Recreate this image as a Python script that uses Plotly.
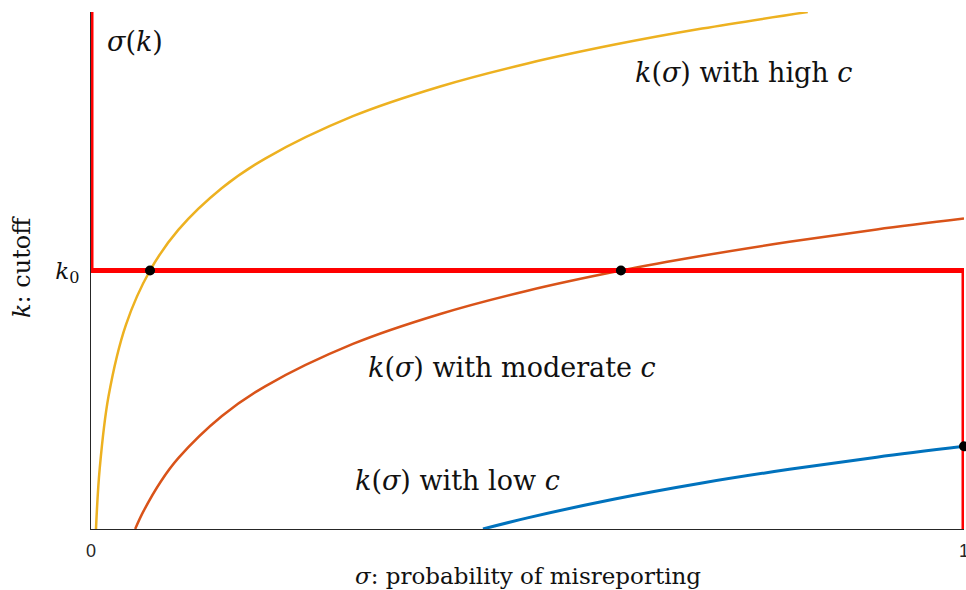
import plotly.graph_objects as go

# sigma (x) and cutoff k (y); k0 = 1
sigma_high = [0.0057, 0.01, 0.02, 0.04, 0.0676, 0.1, 0.15, 0.2, 0.3, 0.4, 0.5, 0.6, 0.7, 0.821]
k_high = [0.0, 0.235, 0.512, 0.790, 1.0, 1.157, 1.319, 1.434, 1.597, 1.712, 1.801, 1.874, 1.936, 2.0]

sigma_mod = [0.0506, 0.06, 0.08, 0.1, 0.15, 0.2, 0.3, 0.4, 0.5, 0.607, 0.7, 0.8, 0.9, 1.0]
k_mod = [0.0, 0.068, 0.184, 0.274, 0.437, 0.553, 0.716, 0.832, 0.922, 1.0, 1.057, 1.111, 1.159, 1.201]

sigma_low = [0.449, 0.5, 0.6, 0.7, 0.8, 0.9, 1.0]
k_low = [0.0, 0.043, 0.116, 0.178, 0.231, 0.278, 0.320]

sigma_of_k_x = [0, 0, 1, 1]
sigma_of_k_y = [2.0, 1.0, 1.0, 0.0]

eq_x = [0.0676, 0.607, 1.0]
eq_y = [1.0, 1.0, 0.320]

x_ticks = [0, 1]
x_ticktext = ["0", "1"]
y_ticks = [1]
y_ticktext = ["<i>k</i><sub>0</sub>"]

SERIF = "DejaVu Serif"

FW, FH = 966, 590
L, T, R, B = 91, 12, 964, 529  # plot area in pixels

fig = go.Figure()
fig.add_trace(go.Scatter(x=sigma_high, y=k_high, mode="lines", line=dict(color="#EDB120", width=2.5, shape="spline"), hoverinfo="skip"))
fig.add_trace(go.Scatter(x=sigma_mod, y=k_mod, mode="lines", line=dict(color="#D95319", width=2.5, shape="spline"), hoverinfo="skip"))
fig.add_trace(go.Scatter(x=sigma_low, y=k_low, mode="lines", line=dict(color="#0072BD", width=3, shape="spline"), hoverinfo="skip"))
fig.add_trace(go.Scatter(x=sigma_of_k_x, y=sigma_of_k_y, mode="lines", line=dict(color="#FF0000", width=5), hoverinfo="skip"))
fig.add_trace(go.Scatter(x=eq_x, y=eq_y, mode="markers", marker=dict(color="black", size=10), cliponaxis=False, hoverinfo="skip"))

fig.update_layout(
    width=FW, height=FH,
    margin=dict(l=L, r=FW - R, t=T, b=FH - B, autoexpand=False),
    paper_bgcolor="white", plot_bgcolor="white",
    showlegend=False,
    xaxis=dict(range=[0, 1], tickvals=x_ticks, ticktext=x_ticktext, showgrid=False, zeroline=False,
               showline=True, linecolor="#262626", linewidth=1, ticks="", layer="below traces",
               ticklabeloverflow="allow",
               tickfont=dict(family="Liberation Sans", size=18, color="#262626"), ticklabelstandoff=5),
    yaxis=dict(range=[0, 2], tickvals=y_ticks, ticktext=y_ticktext, showgrid=False, zeroline=False,
               showline=True, linecolor="#262626", linewidth=1, ticks="", layer="below traces",
               tickfont=dict(family=SERIF, size=23, color="#111111"), ticklabelstandoff=6),
)

def px(x): return (x - L) / (R - L)
def py(y): return (B - y) / (B - T)

def note(text, x, y, size=27, angle=0, xanchor="left"):
    fig.add_annotation(text=text, x=px(x), y=py(y), xref="paper", yref="paper", showarrow=False,
                       font=dict(family=SERIF, size=size, color="#111111"), xanchor=xanchor,
                       yanchor="middle", textangle=angle)

note("<i>σ</i>(<i>k</i>)", 105, 42)
note("<i>k</i>(<i>σ</i>) with high <i>c</i>", 633, 73)
note("<i>k</i>(<i>σ</i>) with moderate <i>c</i>", 366, 367)
note("<i>k</i>(<i>σ</i>) with low <i>c</i>", 353, 480)
note("<i>σ</i>: probability of misreporting", 528, 576, size=23, xanchor="center")
note("<i>k</i>: cutoff", 22, 267, size=24, xanchor="center", angle=-90)

fig.write_html("out.html", config={"displayModeBar": False},
               post_script="document.body.style.margin='0px';document.body.style.overflow='hidden';")
